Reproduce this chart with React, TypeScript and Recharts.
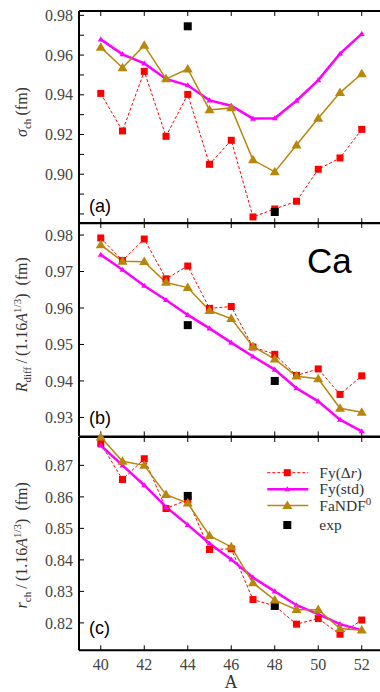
import { LineChart, Line, XAxis, YAxis, Legend, Label, Customized } from "recharts";

const MASS = [40, 41, 42, 43, 44, 45, 46, 47, 48, 49, 50, 51, 52];
const X_TICKS = [40, 42, 44, 46, 48, 50, 52];

// (a) sigma_ch (fm)
const SIGMA_FY_DR = [0.9407, 0.9218, 0.9518, 0.9191, 0.9402, 0.905, 0.9171, 0.8785, 0.8825, 0.8864, 0.9025, 0.9082, 0.9226];
const SIGMA_FY_STD = [0.9679, 0.9604, 0.9558, 0.948, 0.9448, 0.9372, 0.9345, 0.928, 0.9282, 0.937, 0.9474, 0.9607, 0.9707];
const SIGMA_FANDF = [0.9639, 0.9536, 0.9649, 0.948, 0.953, 0.9324, 0.9334, 0.9072, 0.9012, 0.9147, 0.9282, 0.9411, 0.9506];
const SIGMA_EXP = [null, null, null, null, 0.9745, null, null, null, 0.881, null, null, null, null];
const SIGMA_TICKS = [0.88, 0.89, 0.9, 0.91, 0.92, 0.93, 0.94, 0.95, 0.96, 0.97, 0.98];

// (b) R_diff / (1.16 A^1/3)
const RDIFF_FY_DR = [0.9792, 0.973, 0.9789, 0.968, 0.9715, 0.9599, 0.9604, 0.9493, 0.9473, 0.9415, 0.9433, 0.9363, 0.9414];
const RDIFF_FY_STD = [0.9746, 0.9705, 0.9661, 0.9622, 0.9581, 0.9544, 0.9505, 0.9467, 0.9431, 0.938, 0.9344, 0.9294, 0.9262];
const RDIFF_FANDF = [0.9773, 0.9728, 0.9727, 0.967, 0.9656, 0.9593, 0.9571, 0.9494, 0.946, 0.9413, 0.9406, 0.9325, 0.9314];
const RDIFF_EXP = [null, null, null, null, 0.9553, null, null, null, 0.94, null, null, null, null];
const RDIFF_TICKS = [0.93, 0.94, 0.95, 0.96, 0.97, 0.98];

// (c) r_ch / (1.16 A^1/3)
const RCH_FY_DR = [0.8769, 0.8655, 0.8721, 0.8563, 0.8591, 0.8433, 0.8435, 0.8274, 0.8254, 0.8196, 0.8214, 0.8164, 0.8209];
const RCH_FY_STD = [0.8763, 0.87, 0.8637, 0.8568, 0.8511, 0.8452, 0.8401, 0.8344, 0.83, 0.8256, 0.8228, 0.8196, 0.8177];
const RCH_FANDF = [0.879, 0.8713, 0.87, 0.8607, 0.858, 0.8477, 0.8441, 0.8327, 0.8272, 0.8242, 0.8242, 0.8182, 0.8177];
const RCH_EXP = [null, null, null, null, 0.8603, null, null, null, 0.8254, null, null, null, null];
const RCH_TICKS = [0.82, 0.83, 0.84, 0.85, 0.86, 0.87];

const SERIF = "'Liberation Serif', 'Times New Roman', serif";
const SANS = "'Liberation Sans', Arial, sans-serif";
const RED = "#ff0000";
const MAGENTA = "#ff00ff";
const BROWN = "#b8860b";
const TICK_GREY = "#444";

const CHART_W = 390;
const PLOT_RIGHT = 383.5;
const PAD = 10;

/* marker renderers */
const square = (color: string, size: number) => (p: any) => {
  if (p.cx == null || p.cy == null || p.value == null) return <g key={p.index} />;
  return <rect key={p.index} x={p.cx - size / 2} y={p.cy - size / 2} width={size} height={size} fill={color} />;
};

const triangle = (color: string, w: number) => (p: any) => {
  if (p.cx == null || p.cy == null || p.value == null) return <g key={p.index} />;
  const h = w * 0.85;
  const pts = `${p.cx},${p.cy - h * 0.6} ${p.cx - w / 2},${p.cy + h * 0.4} ${p.cx + w / 2},${p.cy + h * 0.4}`;
  return <polygon key={p.index} points={pts} fill={color} />;
};

const SUB = { fontSize: 11 };

function SigmaLabel({ y }: { y: number }) {
  return (
    <text x={27} y={y} transform={`rotate(-90 27 ${y})`} textAnchor="middle" fontFamily={SERIF} fontSize={16} fill="#333">
      <tspan fontStyle="italic">σ</tspan>
      <tspan {...SUB} dy={4}>ch</tspan>
      <tspan dy={-4}>{"\u2009(fm)"}</tspan>
    </text>
  );
}

function RatioLabel({ y, sym, sub }: { y: number; sym: string; sub: string }) {
  return (
    <text x={27} y={y} transform={`rotate(-90 27 ${y})`} textAnchor="middle" fontFamily={SERIF} fontSize={16} fill="#333">
      <tspan fontStyle="italic">{sym}</tspan>
      <tspan {...SUB} dy={4}>{sub}</tspan>
      <tspan dy={-4}>{"\u2009/\u2009(1.16"}</tspan>
      <tspan fontStyle="italic">A</tspan>
      <tspan {...SUB} dy={-6}>1/3</tspan>
      <tspan dy={6}>{")\u2002(fm)"}</tspan>
    </text>
  );
}

function LegendBox() {
  const rows = [
    { y: 10.7, kind: "dr" },
    { y: 27.3, kind: "std" },
    { y: 43.5, kind: "fandf" },
    { y: 63, kind: "exp" },
  ];
  return (
    <svg width={118} height={72} style={{ display: "block" }}>
      {rows.map((r) => (
        <g key={r.kind}>
          {r.kind === "dr" && (
            <>
              <line x1={5.3} x2={46.3} y1={r.y} y2={r.y} stroke={RED} strokeWidth={1} strokeDasharray="3 2" />
              <rect x={21.8} y={r.y - 3.5} width={7} height={7} fill={RED} />
            </>
          )}
          {r.kind === "std" && (
            <>
              <line x1={5.3} x2={46.3} y1={r.y} y2={r.y} stroke={MAGENTA} strokeWidth={2.5} />
              <polygon points={`25.3,${r.y - 3.1} 22.3,${r.y + 2} 28.3,${r.y + 2}`} fill={MAGENTA} />
            </>
          )}
          {r.kind === "fandf" && (
            <>
              <line x1={5.3} x2={46.3} y1={r.y} y2={r.y} stroke={BROWN} strokeWidth={1.5} />
              <polygon points={`25.3,${r.y - 5.1} 20.3,${r.y + 3.4} 30.3,${r.y + 3.4}`} fill={BROWN} />
            </>
          )}
          {r.kind === "exp" && <rect x={21.3} y={r.y - 4} width={8} height={8} fill="#000" />}
          <text x={57.3} y={r.y + 5} fontFamily={SERIF} fontSize={15.5} fill="#333">
            {r.kind === "dr" && (
              <>
                Fy(Δ<tspan fontStyle="italic">r</tspan>)
              </>
            )}
            {r.kind === "std" && "Fy(std)"}
            {r.kind === "fandf" && (
              <>
                FaNDF<tspan fontSize={11} dy={-6}>0</tspan>
              </>
            )}
            {r.kind === "exp" && "exp"}
          </text>
        </g>
      ))}
    </svg>
  );
}

interface PanelProps {
  top: number;
  bottom: number;
  domain: [number, number];
  ticks: number[];
  tickFmt: (v: number) => string;
  fyDr: number[];
  fyStd: number[];
  fandf: number[];
  exp: (number | null)[];
  yLabel: (divTop: number) => JSX.Element;
  tag: string;
  tagBaseline: number;
  last?: boolean;
  extra?: (divTop: number) => JSX.Element | null;
}

function Panel(props: PanelProps) {
  const { top, bottom, domain, ticks, tickFmt, fyDr, fyStd, fandf, exp, yLabel, tag, tagBaseline, last, extra } = props;
  const divTop = top - PAD;
  const mb = last ? 50 : PAD;
  const height = bottom - top + PAD + mb;
  const data = MASS.map((a, i) => ({ a, dr: fyDr[i], std: fyStd[i], fandf: fandf[i], exp: exp[i] }));
  const axisLine = { stroke: "#000", strokeWidth: 2 };
  const tickLine = { stroke: "#000", strokeWidth: 1 };

  // x axes get a 1px box (a zero-height axis is not drawn), taken out of the margins
  return (
    <div style={{ position: "absolute", left: 0, top: divTop }}>
      <LineChart
        width={CHART_W}
        height={height}
        data={data}
        margin={{ top: PAD - 1, right: CHART_W - PLOT_RIGHT, bottom: mb - 1, left: 0 }}
      >
        <XAxis
          xAxisId="b"
          dataKey="a"
          type="number"
          domain={[39, 53]}
          ticks={X_TICKS}
          interval={0}
          height={1}
          tickSize={-5}
          tickMargin={13}
          axisLine={axisLine}
          tickLine={tickLine}
          tick={{ fill: TICK_GREY, fontSize: 16, fontFamily: SERIF }}
          tickFormatter={(v: number) => (last ? String(v) : "")}
        >
          {last && (
            <Label
              content={() => (
                <text x={231} y={688 - divTop} textAnchor="middle" fontFamily={SERIF} fontSize={18} fill="#333">
                  A
                </text>
              )}
            />
          )}
        </XAxis>
        <XAxis
          xAxisId="t"
          orientation="top"
          dataKey="a"
          type="number"
          domain={[39, 53]}
          ticks={X_TICKS}
          interval={0}
          height={1}
          tickSize={-5}
          axisLine={axisLine}
          tickLine={tickLine}
          tickFormatter={() => ""}
        />
        <YAxis
          type="number"
          domain={domain}
          ticks={ticks}
          interval={0}
          width={79}
          tickSize={-5}
          tickMargin={11}
          axisLine={axisLine}
          tickLine={tickLine}
          tick={{ fill: TICK_GREY, fontSize: 16, fontFamily: SERIF }}
          tickFormatter={tickFmt}
        >
          <Label content={() => yLabel(divTop)} />
        </YAxis>
        <Line xAxisId="b" dataKey="dr" stroke={RED} strokeWidth={1} strokeDasharray="3 2" dot={square(RED, 7)} activeDot={false} isAnimationActive={false} />
        <Line xAxisId="b" dataKey="std" stroke={MAGENTA} strokeWidth={2.5} dot={triangle(MAGENTA, 6)} activeDot={false} isAnimationActive={false} />
        <Line xAxisId="b" dataKey="exp" stroke="none" dot={square("#000", 8)} activeDot={false} isAnimationActive={false} />
        <Line xAxisId="b" dataKey="fandf" stroke={BROWN} strokeWidth={1.5} dot={triangle(BROWN, 10)} activeDot={false} isAnimationActive={false} />
        <Customized
          component={() => (
            <g>
              <text x={89} y={tagBaseline - divTop} fontFamily={SANS} fontSize={18} fill="#000">
                {tag}
              </text>
              {extra ? extra(divTop) : null}
            </g>
          )}
        />
        {last && (
          <Legend
            layout="horizontal"
            align="center"
            verticalAlign="middle"
            wrapperStyle={{ left: 262, top: 462 - divTop, width: 118, height: 72 }}
            content={() => <LegendBox />}
          />
        )}
      </LineChart>
    </div>
  );
}

export default function App() {
  return (
    <div style={{ position: "absolute", left: 0, top: 0, width: 380, height: 692, overflow: "hidden", background: "#fff" }}>
      <Panel
        top={11}
        bottom={223.3}
        domain={[0.8753, 0.9822]}
        ticks={SIGMA_TICKS}
        tickFmt={(v) => (Math.round(v * 100) % 2 === 0 && v > 0.895 ? v.toFixed(2) : "")}
        fyDr={SIGMA_FY_DR}
        fyStd={SIGMA_FY_STD}
        fandf={SIGMA_FANDF}
        exp={SIGMA_EXP}
        yLabel={(dt) => <SigmaLabel y={112 - dt} />}
        tag="(a)"
        tagBaseline={212}
      />
      <Panel
        top={223.3}
        bottom={436.7}
        domain={[0.9248, 0.9833]}
        ticks={RDIFF_TICKS}
        tickFmt={(v) => v.toFixed(2)}
        fyDr={RDIFF_FY_DR}
        fyStd={RDIFF_FY_STD}
        fandf={RDIFF_FANDF}
        exp={RDIFF_EXP}
        yLabel={(dt) => <RatioLabel y={325 - dt} sym="R" sub="diff" />}
        tag="(b)"
        tagBaseline={424}
        extra={(dt) => (
          <text x={307} y={273 - dt} fontFamily={SANS} fontSize={35} fill="#000">
            Ca
          </text>
        )}
      />
      <Panel
        top={436.7}
        bottom={650}
        domain={[0.8113, 0.879]}
        ticks={RCH_TICKS}
        tickFmt={(v) => v.toFixed(2)}
        fyDr={RCH_FY_DR}
        fyStd={RCH_FY_STD}
        fandf={RCH_FANDF}
        exp={RCH_EXP}
        yLabel={(dt) => <RatioLabel y={545 - dt} sym="r" sub="ch" />}
        tag="(c)"
        tagBaseline={634}
        last
      />
    </div>
  );
}
